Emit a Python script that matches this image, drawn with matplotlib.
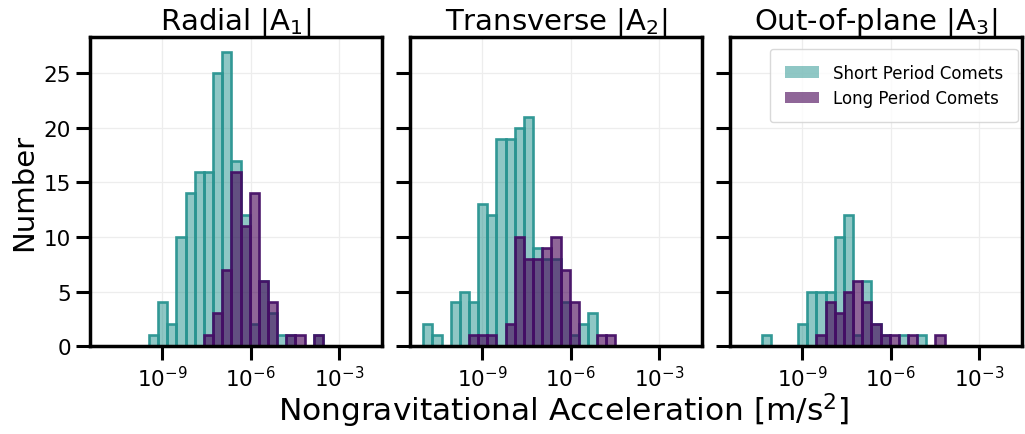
import numpy as np
import matplotlib
matplotlib.use("Agg")
import matplotlib.pyplot as plt
from matplotlib.patches import Patch
from matplotlib.ticker import FixedLocator, NullLocator

# ---- data (counts per logarithmic bin, bins 1e-11 .. 1e-2, 29 bins) ----
bin_lo_exp, bin_hi_exp, n_edges = -11, -2, 30
titles = ["Radial |A$_1$|", "Transverse |A$_2$|", "Out-of-plane |A$_3$|"]
series_names = ["Short Period Comets", "Long Period Comets"]

sp_radial = [0, 0, 0, 0, 0, 1, 4, 2, 10, 14, 16, 16, 25, 27, 17, 12, 2, 6, 3, 1, 1, 0, 0, 1, 0, 0, 0, 0, 0]
lp_radial = [0, 0, 0, 0, 0, 0, 0, 0, 0, 0, 0, 1, 3, 7, 16, 11, 14, 6, 4, 0, 1, 1, 0, 1, 0, 0, 0, 0, 0]
sp_trans = [2, 1, 0, 4, 5, 4, 13, 12, 19, 19, 20, 21, 9, 8, 8, 4, 1, 2, 3, 0, 0, 0, 0, 0, 0, 0, 0, 0, 0]
lp_trans = [0, 0, 0, 0, 0, 1, 1, 1, 0, 2, 10, 8, 8, 9, 10, 7, 4, 0, 0, 1, 1, 0, 0, 0, 0, 0, 0, 0, 0]
sp_oop = [0, 0, 1, 0, 0, 0, 2, 5, 5, 5, 10, 12, 1, 6, 2, 1, 0, 1, 0, 1, 0, 0, 0, 0, 0, 0, 0, 0, 0]
lp_oop = [0, 0, 0, 0, 0, 0, 0, 0, 1, 4, 3, 5, 6, 4, 2, 1, 1, 0, 1, 0, 0, 1, 0, 0, 0, 0, 0, 0, 0]

xticks = [1e-9, 1e-6, 1e-3]

sp_face = (0.129, 0.569, 0.549, 0.5)
sp_edge = (0.16, 0.58, 0.57, 0.95)
lp_face = (0.267, 0.004, 0.329, 0.6)
lp_edge = (0.27, 0.06, 0.40, 0.95)

edges = np.logspace(bin_lo_exp, bin_hi_exp, n_edges)
centers = np.sqrt(edges[:-1] * edges[1:])

fig, axes = plt.subplots(1, 3, figsize=(10.25, 4.35), dpi=100, sharex=True, sharey=True)
fig.subplots_adjust(left=0.0878, right=0.997, bottom=0.202, top=0.913, wspace=0.096)

data = [(sp_radial, lp_radial), (sp_trans, lp_trans), (sp_oop, lp_oop)]
for ax, title, (sp, lp) in zip(axes, titles, data):
    ax.set_xscale("log")
    ax.grid(True, color="#ededed", linewidth=0.9, zorder=0)
    ax.set_axisbelow(True)
    for counts, fc, ec in [(sp, sp_face, sp_edge), (lp, lp_face, lp_edge)]:
        _, _, patches = ax.hist(centers, bins=edges, weights=counts,
                                facecolor=fc, edgecolor=ec, linewidth=1.9)
        for p, c in zip(patches, counts):
            if c == 0:
                p.set_visible(False)
    ax.set_title(title, fontsize=21, pad=6)
    for s in ax.spines.values():
        s.set_linewidth(2.5)
    ax.xaxis.set_major_locator(FixedLocator(xticks))
    ax.xaxis.set_minor_locator(NullLocator())
    ax.tick_params(axis="both", which="major", length=10, width=2.2,
                   labelsize=15.5, direction="out")

axes[0].set_yticks([0, 5, 10, 15, 20, 25])
axes[0].set_ylabel("Number", fontsize=21)
fig.supxlabel("Nongravitational Acceleration [m/s$^2$]", fontsize=22.5, x=0.55, y=0.012)

handles = [Patch(facecolor=sp_face, edgecolor="none"), Patch(facecolor=lp_face, edgecolor="none")]
axes[2].legend(handles, series_names, loc="upper right", fontsize=12,
               handlelength=2.05, handleheight=0.7, borderpad=0.9, labelspacing=0.45,
               handletextpad=0.8, borderaxespad=0.25, bbox_to_anchor=(1.0, 0.975),
               framealpha=0.8, edgecolor="#d0d0d0")

fig.savefig("out.png", dpi=100)
